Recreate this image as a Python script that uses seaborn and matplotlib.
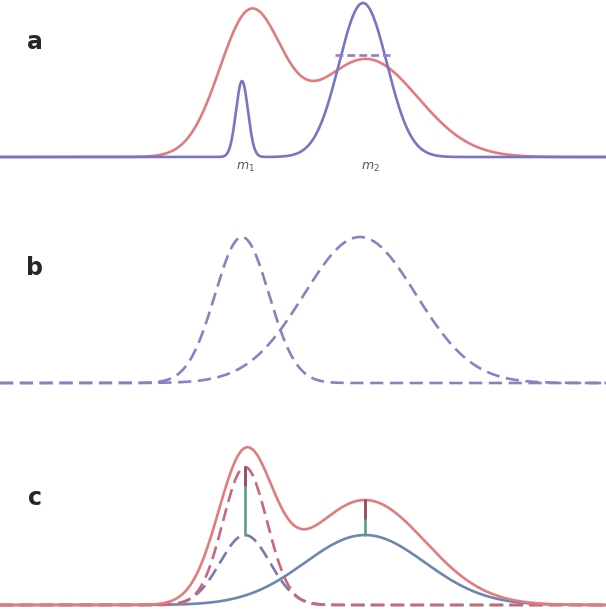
import numpy as np
import pandas as pd
import seaborn as sns
import matplotlib.pyplot as plt

# curves are described by gaussian components
# (centre, spread, peak height), all in pixel-like units of the panel

# panel a: red mixture and blue mixture
a_red_centres = [250, 366]
a_red_spreads = [31, 52]
a_red_heights = [140, 98]
a_blue_centres = [242, 363]
a_blue_spreads = [6, 24]
a_blue_heights = [76, 154]
a_labels = ["$m_1$", "$m_2$"]
a_label_x = [245, 370]
a_bar_x = [335, 390]
a_bar_h = 102

# panel b: two separate dashed components
b_centres = [242, 360]
b_spreads = [27, 56]
b_heights = [146, 146]

# panel c: sum, narrow and broad components
c_sum_centres = [245, 365]
c_sum_spreads = [27, 60]
c_sum_heights = [143, 105]
c_upper_centre, c_upper_spread, c_upper_height = 245, 22, 138
c_lower_centres = [245, 365]
c_lower_spreads = [25, 60]
c_lower_heights = [70, 70]

x = np.linspace(0, 606, 800)


def bump(c, s, h):
    return h * np.exp(-0.5 * ((x - c) / s) ** 2)


def mixture(cs, ss, hs):
    return sum(bump(c, s, h) for c, s, h in zip(cs, ss, hs))


sns.set_theme(style="white")
plt.rcParams['font.family'] = ['DejaVu Sans']

fig = plt.figure(figsize=(6.06, 6.12), dpi=100)
H = 612
panel_px = [(0, 204), (204, 408), (408, 612)]
baselines = [157, 383, 605]
axes = []
for (top, bot), base in zip(panel_px, baselines):
    ax = fig.add_axes([0, 1 - bot / H, 1, (bot - top) / H])
    ax.set_xlim(0, 606)
    ax.set_ylim(-(bot - base), base - top)
    ax.axis('off')
    axes.append(ax)

red = "#e27c7c"
blue = "#7676c4"
lw = 1.9

# ---- a
ax = axes[0]
sns.lineplot(x=x, y=mixture(a_red_centres, a_red_spreads, a_red_heights),
             ax=ax, color=red, lw=lw)
sns.lineplot(x=x, y=mixture(a_blue_centres, a_blue_spreads, a_blue_heights),
             ax=ax, color=blue, lw=lw)
ax.plot(a_bar_x, [a_bar_h, a_bar_h], color="#9a7ac8", lw=lw, linestyle=(0, (3, 1.5)))
for lab, lx in zip(a_labels, a_label_x):
    ax.text(lx, -10, lab, ha='center', va='center', fontsize=9, color="#55556a")
ax.text(35, 115, "a", ha='center', va='center', fontsize=17, fontweight='bold')

# ---- b
ax = axes[1]
for c, s, h in zip(b_centres, b_spreads, b_heights):
    sns.lineplot(x=x, y=bump(c, s, h), ax=ax, color="#8484c2", lw=lw,
                 linestyle=(0, (5, 2.5)))
ax.text(35, 115, "b", ha='center', va='center', fontsize=17, fontweight='bold')

# ---- c
ax = axes[2]
sum_curve = mixture(c_sum_centres, c_sum_spreads, c_sum_heights)
upper = bump(c_upper_centre, c_upper_spread, c_upper_height)
narrow_low = bump(c_lower_centres[0], c_lower_spreads[0], c_lower_heights[0])
broad_low = bump(c_lower_centres[1], c_lower_spreads[1], c_lower_heights[1])
sns.lineplot(x=x, y=broad_low, ax=ax, color="#6c86b0", lw=lw)
sns.lineplot(x=x, y=narrow_low, ax=ax, color="#7a7aa8", lw=lw, linestyle=(0, (5, 2.5)))
sns.lineplot(x=x, y=upper, ax=ax, color="#c8687a", lw=lw, linestyle=(0, (5, 2.5)))
sns.lineplot(x=x, y=sum_curve, ax=ax, color=red, lw=lw)
for c, hl, hu in [(c_lower_centres[0], c_lower_heights[0], c_upper_height),
                  (c_lower_centres[1], c_lower_heights[1], c_sum_heights[1])]:
    ax.plot([c, c], [hl, hu], color="#5f9c84", lw=lw)
    ax.plot([c, c], [hu - 18, hu], color="#9a4a5a", lw=lw)
ax.text(35, 107, "c", ha='center', va='center', fontsize=17, fontweight='bold')

fig.savefig("out.png", dpi=100)
